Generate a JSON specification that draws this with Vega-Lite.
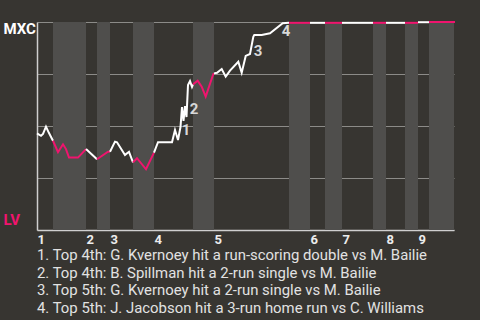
{
  "$schema": "https://vega.github.io/schema/vega-lite/v6.json",
  "width": 417,
  "height": 208,
  "autosize": {"type": "none"},
  "padding": {"left": 37, "top": 22, "right": 26, "bottom": 90},
  "background": "#373531",
  "config": {"view": {"stroke": null}},
  "title": {
    "text": [
      "1. Top 4th: G. Kvernoey hit a run-scoring double vs M. Bailie",
      "2. Top 4th: B. Spillman hit a 2-run single vs M. Bailie",
      "3. Top 5th: G. Kvernoey hit a 2-run single vs M. Bailie",
      "4. Top 5th: J. Jacobson hit a 3-run home run vs C. Williams"
    ],
    "orient": "bottom",
    "anchor": "start",
    "frame": "group",
    "font": "Roboto",
    "fontSize": 14.9,
    "fontWeight": "normal",
    "color": "#e2e2e2",
    "lineHeight": 17.7,
    "offset": 2
  },
  "datasets": {
    "halves": [
      {"inning": 1, "start": 16, "end": 49},
      {"inning": 2, "start": 60, "end": 73},
      {"inning": 3, "start": 96, "end": 117},
      {"inning": 4, "start": 156, "end": 177},
      {"inning": 5, "start": 252, "end": 273},
      {"inning": 6, "start": 288, "end": 305},
      {"inning": 7, "start": 336, "end": 349},
      {"inning": 8, "start": 368, "end": 381},
      {"inning": 9, "start": 392, "end": 417}
    ],
    "wp": [
      {"seg": "1T", "half": "top", "t": 0, "p": 0.465},
      {"seg": "1T", "half": "top", "t": 4, "p": 0.453},
      {"seg": "1T", "half": "top", "t": 6, "p": 0.462},
      {"seg": "1T", "half": "top", "t": 9, "p": 0.497},
      {"seg": "1T", "half": "top", "t": 12, "p": 0.466},
      {"seg": "1T", "half": "top", "t": 16, "p": 0.429},
      {"seg": "1B", "half": "bottom", "t": 16, "p": 0.429},
      {"seg": "1B", "half": "bottom", "t": 21, "p": 0.374},
      {"seg": "1B", "half": "bottom", "t": 26, "p": 0.412},
      {"seg": "1B", "half": "bottom", "t": 29, "p": 0.389},
      {"seg": "1B", "half": "bottom", "t": 32, "p": 0.348},
      {"seg": "1B", "half": "bottom", "t": 41, "p": 0.348},
      {"seg": "1B", "half": "bottom", "t": 49, "p": 0.389},
      {"seg": "2T", "half": "top", "t": 49, "p": 0.389},
      {"seg": "2T", "half": "top", "t": 60, "p": 0.340},
      {"seg": "2B", "half": "bottom", "t": 60, "p": 0.340},
      {"seg": "2B", "half": "bottom", "t": 71, "p": 0.376},
      {"seg": "2B", "half": "bottom", "t": 73, "p": 0.376},
      {"seg": "3T", "half": "top", "t": 73, "p": 0.376},
      {"seg": "3T", "half": "top", "t": 78, "p": 0.425},
      {"seg": "3T", "half": "top", "t": 80, "p": 0.422},
      {"seg": "3T", "half": "top", "t": 88, "p": 0.361},
      {"seg": "3T", "half": "top", "t": 92, "p": 0.376},
      {"seg": "3T", "half": "top", "t": 96, "p": 0.325},
      {"seg": "3B", "half": "bottom", "t": 96, "p": 0.325},
      {"seg": "3B", "half": "bottom", "t": 100, "p": 0.345},
      {"seg": "3B", "half": "bottom", "t": 109, "p": 0.292},
      {"seg": "3B", "half": "bottom", "t": 117, "p": 0.372},
      {"seg": "4T", "half": "top", "t": 117, "p": 0.372},
      {"seg": "4T", "half": "top", "t": 121, "p": 0.422},
      {"seg": "4T", "half": "top", "t": 135, "p": 0.422},
      {"seg": "4T", "half": "top", "t": 138, "p": 0.481},
      {"seg": "4T", "half": "top", "t": 141, "p": 0.433},
      {"seg": "4T", "half": "top", "t": 143.5, "p": 0.495},
      {"seg": "4T", "half": "top", "t": 145, "p": 0.591},
      {"seg": "4T", "half": "top", "t": 146.5, "p": 0.524},
      {"seg": "4T", "half": "top", "t": 148, "p": 0.596},
      {"seg": "4T", "half": "top", "t": 149.5, "p": 0.543},
      {"seg": "4T", "half": "top", "t": 151, "p": 0.697},
      {"seg": "4T", "half": "top", "t": 153, "p": 0.716},
      {"seg": "4T", "half": "top", "t": 155, "p": 0.688},
      {"seg": "4T", "half": "top", "t": 156, "p": 0.700},
      {"seg": "4B", "half": "bottom", "t": 156, "p": 0.700},
      {"seg": "4B", "half": "bottom", "t": 160.7, "p": 0.718},
      {"seg": "4B", "half": "bottom", "t": 164.7, "p": 0.689},
      {"seg": "4B", "half": "bottom", "t": 168.7, "p": 0.641},
      {"seg": "4B", "half": "bottom", "t": 176.3, "p": 0.750},
      {"seg": "4B", "half": "bottom", "t": 177, "p": 0.753},
      {"seg": "5T", "half": "top", "t": 177, "p": 0.753},
      {"seg": "5T", "half": "top", "t": 180, "p": 0.756},
      {"seg": "5T", "half": "top", "t": 184.7, "p": 0.774},
      {"seg": "5T", "half": "top", "t": 188.7, "p": 0.737},
      {"seg": "5T", "half": "top", "t": 193, "p": 0.766},
      {"seg": "5T", "half": "top", "t": 201.3, "p": 0.809},
      {"seg": "5T", "half": "top", "t": 204.7, "p": 0.756},
      {"seg": "5T", "half": "top", "t": 208.7, "p": 0.837},
      {"seg": "5T", "half": "top", "t": 213, "p": 0.846},
      {"seg": "5T", "half": "top", "t": 216.3, "p": 0.929},
      {"seg": "5T", "half": "top", "t": 217.3, "p": 0.938},
      {"seg": "5T", "half": "top", "t": 224.7, "p": 0.938},
      {"seg": "5T", "half": "top", "t": 233, "p": 0.946},
      {"seg": "5T", "half": "top", "t": 245.7, "p": 0.994},
      {"seg": "5T", "half": "top", "t": 252, "p": 0.996},
      {"seg": "5B", "half": "bottom", "t": 252, "p": 0.996},
      {"seg": "5B", "half": "bottom", "t": 273, "p": 0.996},
      {"seg": "6T", "half": "top", "t": 273, "p": 0.996},
      {"seg": "6T", "half": "top", "t": 288, "p": 0.996},
      {"seg": "6B", "half": "bottom", "t": 288, "p": 0.996},
      {"seg": "6B", "half": "bottom", "t": 305, "p": 0.996},
      {"seg": "7T", "half": "top", "t": 305, "p": 0.996},
      {"seg": "7T", "half": "top", "t": 336, "p": 0.996},
      {"seg": "7B", "half": "bottom", "t": 336, "p": 0.996},
      {"seg": "7B", "half": "bottom", "t": 349, "p": 0.996},
      {"seg": "8T", "half": "top", "t": 349, "p": 0.996},
      {"seg": "8T", "half": "top", "t": 368, "p": 0.996},
      {"seg": "8B", "half": "bottom", "t": 368, "p": 0.996},
      {"seg": "8B", "half": "bottom", "t": 381, "p": 0.996},
      {"seg": "9T", "half": "top", "t": 381, "p": 0.999},
      {"seg": "9T", "half": "top", "t": 392, "p": 0.999},
      {"seg": "9B", "half": "bottom", "t": 392, "p": 1.0},
      {"seg": "9B", "half": "bottom", "t": 418, "p": 1.0}
    ],
    "events": [
      {"n": "1", "t": 149, "p": 0.481},
      {"n": "2", "t": 157, "p": 0.582},
      {"n": "3", "t": 221, "p": 0.861},
      {"n": "4", "t": 249, "p": 0.957}
    ]
  },
  "layer": [
    {
      "data": {"name": "halves"},
      "mark": {"type": "rect", "color": "#4f4e4c"},
      "encoding": {
        "x": {
          "field": "start",
          "type": "quantitative",
          "scale": {"domain": [0, 417], "nice": false, "zero": false},
          "axis": {
            "orient": "bottom",
            "values": [0, 49, 73, 117, 177, 273, 305, 349, 381],
            "labelExpr": "indexof([0, 49, 73, 117, 177, 273, 305, 349, 381], datum.value) + 1",
            "title": null,
            "grid": false,
            "ticks": false,
            "tickSize": 0,
            "domainColor": "#cfcfcf",
            "domainWidth": 1.5,
            "labelAlign": "left",
            "labelBaseline": "top",
            "labelFlush": false,
            "labelOverlap": false,
            "labelPadding": 3,
            "labelFont": "Roboto",
            "labelFontSize": 13,
            "labelFontWeight": "bold",
            "labelColor": "#ececec"
          }
        },
        "x2": {"field": "end"}
      }
    },
    {
      "data": {"name": "wp"},
      "mark": {"type": "line", "strokeWidth": 2},
      "encoding": {
        "x": {"field": "t", "type": "quantitative"},
        "y": {
          "field": "p",
          "type": "quantitative",
          "scale": {"domain": [0, 1], "nice": false, "zero": false},
          "axis": {
            "orient": "left",
            "values": [0, 0.25, 0.5, 0.75, 1],
            "labelExpr": "datum.value == 1 ? 'MXC' : (datum.value == 0 ? 'LV' : '')",
            "title": null,
            "grid": true,
            "gridColor": "#8c8b88",
            "gridWidth": 1.2,
            "ticks": false,
            "tickSize": 0,
            "domainColor": "#cfcfcf",
            "domainWidth": 1.5,
            "labelAlign": "left",
            "labelBaseline": "middle",
            "labelPadding": 34,
            "labelFlush": false,
            "labelOverlap": false,
            "labelOffset": {"condition": {"test": "datum.value == 1", "value": 6}, "value": -11},
            "labelColor": {"condition": {"test": "datum.value == 1", "value": "#ffffff"}, "value": "#f0146e"},
            "labelFont": "Roboto",
            "labelFontSize": 15,
            "labelFontWeight": "bold"
          }
        },
        "color": {
          "field": "half",
          "type": "nominal",
          "scale": {"domain": ["top", "bottom"], "range": ["#ffffff", "#f0146e"]},
          "legend": null
        },
        "detail": {"field": "seg"}
      }
    },
    {
      "data": {"name": "events"},
      "mark": {"type": "text", "font": "Roboto", "fontSize": 15, "fontWeight": "bold", "color": "#d8d8d8", "align": "center", "baseline": "middle"},
      "encoding": {
        "x": {"field": "t", "type": "quantitative"},
        "y": {"field": "p", "type": "quantitative"},
        "text": {"field": "n"}
      }
    }
  ]
}
